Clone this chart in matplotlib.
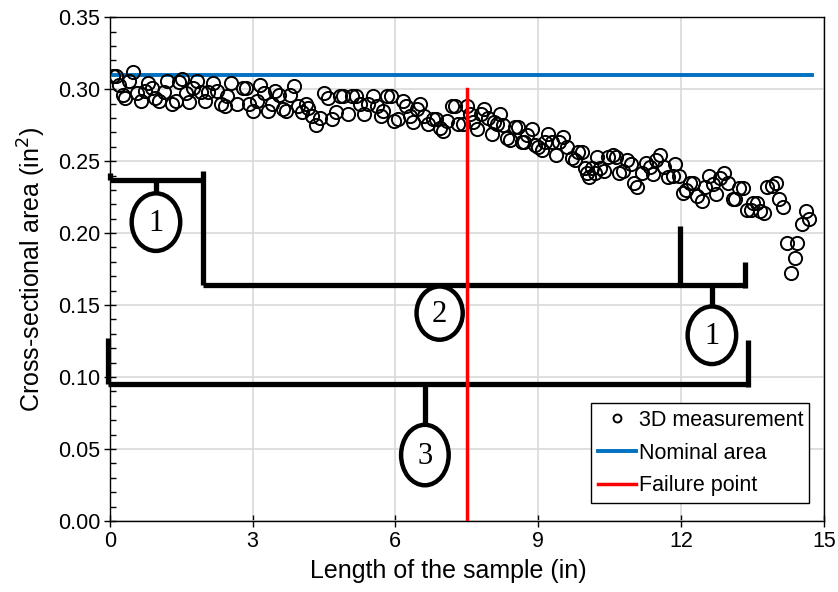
import matplotlib
matplotlib.use('Agg')
import matplotlib.pyplot as plt
from matplotlib.patches import Ellipse
from matplotlib.ticker import MultipleLocator

plt.rcParams['font.family'] = ['Liberation Sans', 'DejaVu Sans']

# 3D scan of the sample: position along the sample (in) and area (in^2)
length_in = [0.06, 0.13, 0.19, 0.27, 0.32, 0.40, 0.48, 0.57, 0.65, 0.74, 0.80, 0.88, 0.95, 1.03,
             1.13, 1.20, 1.30, 1.39, 1.45, 1.51, 1.60, 1.66, 1.74, 1.83, 1.91, 2.00, 2.06, 2.16,
             2.25, 2.33, 2.42, 2.46, 2.54, 2.67, 2.79, 2.86, 2.92, 3.00, 3.09, 3.15, 3.24, 3.32,
             3.40, 3.47, 3.55, 3.63, 3.70, 3.78, 3.87, 3.95, 4.03, 4.12, 4.16, 4.24, 4.33, 4.41,
             4.50, 4.58, 4.66, 4.75, 4.83, 4.89, 5.00, 5.08, 5.17, 5.25, 5.34, 5.42, 5.53, 5.61,
             5.69, 5.74, 5.82, 5.90, 5.97, 6.05, 6.16, 6.22, 6.30, 6.37, 6.45, 6.51, 6.60, 6.68,
             6.79, 6.85, 6.93, 7.00, 7.08, 7.18, 7.25, 7.31, 7.42, 7.50, 7.56, 7.63, 7.71, 7.79,
             7.86, 7.94, 8.03, 8.07, 8.13, 8.19, 8.26, 8.34, 8.40, 8.51, 8.57, 8.66, 8.70, 8.76,
             8.87, 8.93, 8.99, 9.08, 9.14, 9.20, 9.29, 9.37, 9.43, 9.52, 9.60, 9.71, 9.77, 9.83,
             9.92, 9.98, 10.02, 10.06, 10.13, 10.19, 10.23, 10.29, 10.38, 10.46, 10.57, 10.63,
             10.69, 10.78, 10.86, 10.95, 11.01, 11.07, 11.18, 11.26, 11.34, 11.41, 11.47, 11.55,
             11.64, 11.72, 11.83, 11.87, 11.95, 12.04, 12.10, 12.18, 12.25, 12.33, 12.44, 12.50,
             12.58, 12.67, 12.73, 12.82, 12.90, 12.98, 13.09, 13.13, 13.21, 13.30, 13.38, 13.47,
             13.51, 13.59, 13.66, 13.74, 13.80, 13.91, 13.99, 14.05, 14.14, 14.22, 14.31, 14.39,
             14.43, 14.54, 14.62, 14.68]
area = [0.309, 0.309, 0.303, 0.296, 0.294, 0.306, 0.312, 0.297, 0.292, 0.299, 0.304, 0.301, 0.294, 0.292,
        0.298, 0.306, 0.290, 0.292, 0.305, 0.307, 0.297, 0.291, 0.301, 0.306, 0.298, 0.292, 0.298, 0.304,
        0.299, 0.290, 0.288, 0.295, 0.304, 0.290, 0.301, 0.301, 0.290, 0.285, 0.292, 0.303, 0.297, 0.285,
        0.290, 0.299, 0.296, 0.286, 0.285, 0.296, 0.302, 0.288, 0.284, 0.290, 0.287, 0.281, 0.275, 0.280,
        0.297, 0.294, 0.279, 0.284, 0.295, 0.295, 0.283, 0.295, 0.295, 0.290, 0.283, 0.290, 0.295, 0.288,
        0.281, 0.285, 0.295, 0.295, 0.278, 0.279, 0.292, 0.288, 0.281, 0.277, 0.286, 0.290, 0.281, 0.276,
        0.279, 0.279, 0.273, 0.271, 0.278, 0.288, 0.288, 0.276, 0.276, 0.288, 0.283, 0.277, 0.272, 0.283,
        0.286, 0.280, 0.269, 0.277, 0.276, 0.283, 0.275, 0.266, 0.265, 0.274, 0.274, 0.263, 0.263, 0.268,
        0.272, 0.261, 0.260, 0.258, 0.263, 0.269, 0.263, 0.254, 0.263, 0.267, 0.260, 0.252, 0.251, 0.256,
        0.256, 0.245, 0.242, 0.239, 0.245, 0.242, 0.253, 0.245, 0.243, 0.253, 0.254, 0.253,
        0.242, 0.243, 0.251, 0.248, 0.235, 0.232, 0.242, 0.249, 0.246, 0.241, 0.251, 0.254,
        0.246, 0.239, 0.240, 0.248, 0.240, 0.228, 0.230, 0.235, 0.235, 0.226, 0.222, 0.232,
        0.240, 0.234, 0.227, 0.238, 0.242, 0.235, 0.224, 0.224, 0.231, 0.231, 0.216, 0.216,
        0.221, 0.221, 0.215, 0.214, 0.232, 0.233, 0.235, 0.224, 0.218, 0.193, 0.172, 0.183,
        0.193, 0.206, 0.215, 0.210]

nominal_area = 0.31
nominal_span = [0, 14.75]
failure_x = 7.5
failure_top = 0.30

fig = plt.figure(figsize=(8.38, 5.92), dpi=100)
ax = fig.add_axes([0.131, 0.120, 0.852, 0.851])

ax.plot(length_in, area, 'o', mfc='none', mec='black', ms=9.5, mew=1.4,
        label='3D measurement', zorder=4)
ax.plot(nominal_span, [nominal_area, nominal_area], color='#0070C0', lw=2.8,
        label='Nominal area', zorder=3)
ax.plot([failure_x, failure_x], [0, failure_top], color='#FF0000', lw=2.5,
        label='Failure point', zorder=6)

# bracket annotations
blk = dict(color='black', lw=3.8, solid_capstyle='butt', zorder=5, clip_on=False)
ax.plot([0, 0], [0.237, 0.242], **blk)
ax.plot([0, 1.95], [0.237, 0.237], **blk)
ax.plot([1.95, 1.95], [0.243, 0.164], **blk)
ax.plot([0.97, 0.97], [0.237, 0.227], **blk)
ax.plot([1.95, 13.34], [0.164, 0.164], **blk)
ax.plot([11.97, 11.97], [0.164, 0.205], **blk)
ax.plot([13.34, 13.34], [0.162, 0.180], **blk)
ax.plot([12.65, 12.65], [0.164, 0.149], **blk)
ax.plot([-0.04, 13.4], [0.095, 0.095], **blk)
ax.plot([-0.04, -0.04], [0.095, 0.127], **blk)
ax.plot([13.4, 13.4], [0.093, 0.126], **blk)
ax.plot([6.62, 6.62], [0.095, 0.067], **blk)

labels = [('1', 0.97, 0.2076, 1.02, 0.040),
          ('1', 12.65, 0.129, 1.02, 0.040),
          ('2', 6.93, 0.1444, 0.97, 0.037),
          ('3', 6.62, 0.0458, 1.0, 0.042)]
for txt, cx, cy, w, h in labels:
    ax.add_patch(Ellipse((cx, cy), w, h, facecolor='white', edgecolor='black',
                         lw=3.2, zorder=5))
    ax.text(cx, cy - 0.001, txt, ha='center', va='center', fontsize=22,
            family='Liberation Serif', zorder=6)

ax.set_xlim(0, 15)
ax.set_ylim(0, 0.35)
ax.xaxis.set_major_locator(MultipleLocator(3))
ax.yaxis.set_major_locator(MultipleLocator(0.05))
ax.yaxis.set_minor_locator(MultipleLocator(0.01))
ax.yaxis.set_major_formatter(plt.FormatStrFormatter('%.2f'))
ax.tick_params(axis='both', which='major', direction='inout', length=8, width=1,
               labelsize=15.5, pad=3)
ax.tick_params(axis='y', which='minor', direction='in', length=4, width=1)
ax.grid(True, which='major', color='#D9D9D9', lw=1.2, zorder=0)
ax.set_axisbelow(True)
for s in ax.spines.values():
    s.set_color('black')
    s.set_linewidth(1)

ax.set_xlabel('Length of the sample (in)', fontsize=18, labelpad=6)
ax.xaxis.set_label_coords(0.474, -0.075)
ax.set_ylabel('Cross-sectional area (in$^2$)', fontsize=18, labelpad=7)

leg = ax.legend(loc='lower right', bbox_to_anchor=(0.98, 0.036), borderaxespad=0,
                fontsize=15.5, frameon=True, fancybox=False, edgecolor='black',
                framealpha=1, handlelength=1.8, handletextpad=0.1,
                labelspacing=0.55, borderpad=0.3, markerscale=0.6)
leg.get_frame().set_linewidth(1)
leg.set_zorder(10)

fig.savefig('out.png', dpi=100)
